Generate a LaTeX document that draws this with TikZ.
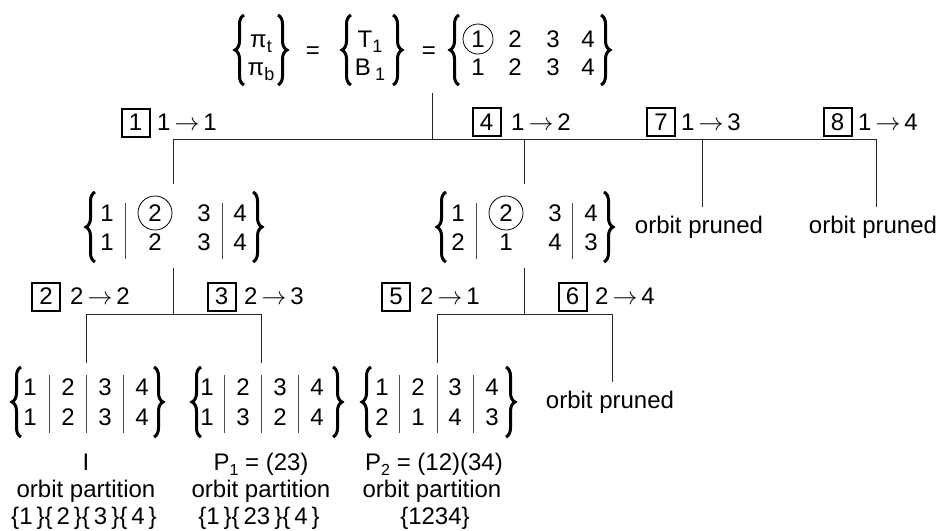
\documentclass[tikz,border=0pt]{standalone}
\usepackage{fontspec}
\setmainfont{Liberation Sans}
\usetikzlibrary{decorations.pathreplacing}
\newcommand\sbs[1]{\raisebox{-0.4ex}{\fontsize{18}{18}\selectfont #1}}
\newcommand\sbp[1]{\raisebox{-0.4ex}{\fontsize{16}{16}\selectfont #1}}
\newcommand\Lb[3]{\draw[brc] (#1+9,#3) -- (#1+9,#2);}
\newcommand\Rb[3]{\draw[brc] (#1-9,#2) -- (#1-9,#3);}
\newcommand\Vb[3]{\draw[vbar] (#1,#2) -- (#1,#3);}
\newcommand\arr{\,$\rightarrow$\,}
\begin{document}
\begin{tikzpicture}[x=1pt,y=-1pt,
  every node/.style={font=\fontsize{24}{28}\selectfont, inner sep=0pt},
  ln/.style={line width=1pt, draw=black!85},
  brc/.style={decorate, decoration={brace, amplitude=9pt, aspect=0.5}, line width=3pt},
  vbar/.style={line width=0.8pt, draw=black!70},
  circ/.style={draw, circle, minimum size=34pt, line width=0.8pt},
  boxn/.style={draw, line width=2pt, minimum width=28pt, minimum height=28pt},
  lbl/.style={anchor=west},
  bt/.style={anchor=base}]
\useasboundingbox (0,0) rectangle (944,530);

% ---------- group nodes (invisible frames) ----------
\node[minimum width=376pt, minimum height=82pt] (root) at (422,52) {};
\node[minimum width=176pt, minimum height=84pt] (m1) at (173,226) {};
\node[minimum width=176pt, minimum height=84pt] (m2) at (524,226) {};
\node[minimum width=152pt, minimum height=78pt] (l1) at (86,402) {};
\node[minimum width=152pt, minimum height=78pt] (l2) at (261,402) {};
\node[minimum width=152pt, minimum height=78pt] (l3) at (437,402) {};

% ---------- root ----------
\Lb{235}{15}{85}\Rb{287}{15}{85}
\node[bt] (pt) at (261,47.6) {π\sbs{t}};
\node[bt] (pb) at (261,75.6) {π\sbs{b}};
\node (eq1) at (313,53) {=};
\Lb{342}{15}{85}\Rb{402}{15}{85}
\node[bt] (T1) at (370,47.6) {T\sbs{1}};
\node[bt] (B1) at (370,75.6) {B\,\sbs{1}};
\node (eq2) at (429,53) {=};
\Lb{450}{15}{85}\Rb{610}{15}{85}
\node[circ, minimum size=30pt] (r11) at (478,39) {1};
\node (r12) at (515,39) {2};
\node (r13) at (553,39) {3};
\node (r14) at (588,39) {4};
\node (r21) at (478,67) {1};
\node (r22) at (515,67) {2};
\node (r23) at (553,67) {3};
\node (r24) at (588,67) {4};

% ---------- m1 ----------
\Lb{86}{192}{262}\Rb{262}{192}{262}
\node (a11) at (107,213) {1}; \node (a21) at (107,242) {1};
\Vb{125}{203}{259}
\node[circ] (a12) at (155,213) {2}; \node (a22) at (155,242) {2};
\node (a13) at (204,213) {3}; \node (a23) at (204,242) {3};
\Vb{222}{203}{259}
\node (a14) at (240,213) {4}; \node (a24) at (240,242) {4};

% ---------- m2 ----------
\Lb{437}{192}{262}\Rb{613}{192}{262}
\node (b11) at (458,213) {1}; \node (b21) at (458,242) {2};
\Vb{476}{203}{259}
\node[circ] (b12) at (506,213) {2}; \node (b22) at (506,242) {1};
\node (b13) at (555,213) {3}; \node (b23) at (555,242) {4};
\Vb{572}{203}{259}
\node (b14) at (591,213) {4}; \node (b24) at (591,242) {3};

% ---------- leaves ----------
\Lb{12}{367}{437}\Rb{163}{367}{437}
\node (c11) at (30,387) {1}; \node (c21) at (30,417) {1};
\node (c12) at (68,387) {2}; \node (c22) at (68,417) {2};
\node (c13) at (105,387) {3}; \node (c23) at (105,417) {3};
\node (c14) at (142,387) {4}; \node (c24) at (142,417) {4};
\Vb{49}{375}{433}\Vb{86}{375}{433}\Vb{123}{375}{433}

\Lb{192}{367}{437}\Rb{342}{367}{437}
\node (d11) at (207,387) {1}; \node (d21) at (207,417) {1};
\node (d12) at (243,387) {2}; \node (d22) at (243,417) {3};
\node (d13) at (280,387) {3}; \node (d23) at (280,417) {2};
\node (d14) at (317,387) {4}; \node (d24) at (317,417) {4};
\Vb{224}{375}{433}\Vb{261}{375}{433}\Vb{298}{375}{433}

\Lb{362}{367}{437}\Rb{515}{367}{437}
\node (e11) at (382,387) {1}; \node (e21) at (382,417) {2};
\node (e12) at (418,387) {2}; \node (e22) at (418,417) {1};
\node (e13) at (455,387) {3}; \node (e23) at (455,417) {4};
\node (e14) at (492,387) {4}; \node (e24) at (492,417) {3};
\Vb{399}{375}{433}\Vb{437}{375}{433}\Vb{473}{375}{433}

% ---------- pruned ----------
\node[bt] (p7) at (699,233) {orbit pruned};
\node[bt] (p8) at (873,233) {orbit pruned};
\node[bt] (p6) at (610,408) {orbit pruned};

% ---------- captions ----------
\node[bt] (f1a) at (86,470) {I};
\node[bt] (f1b) at (86,497) {orbit partition};
\node[bt] (f1c) at (84,524) {\{1\,\}\{\,2\,\}\{\,3\,\}\{\,4\,\}};
\node[bt] (f2a) at (261,470) {P\sbp{1} = (23)};
\node[bt] (f2b) at (261,497) {orbit partition};
\node[bt] (f2c) at (259,524) {\{1\,\}\{\,23\,\}\{\,4\,\}};
\node[bt] (f3a) at (434,470) {P\sbp{2} = (12)(34)};
\node[bt] (f3b) at (432,497) {orbit partition};
\node[bt] (f3c) at (435,524) {\{1234\}};

% ---------- edge labels ----------
\node[boxn] (k1) at (135.5,122.5) {1}; \node[lbl] (t1) at (157,122.5) {1\arr1};
\node[boxn] (k4) at (486.5,122) {4};   \node[lbl] (t4) at (511,122) {1\arr2};
\node[boxn] (k7) at (661,122) {7};     \node[lbl] (t7) at (681,122) {1\arr3};
\node[boxn] (k8) at (837.5,122) {8};   \node[lbl] (t8) at (858,122) {1\arr4};
\node[boxn] (k2) at (46,296.5) {2};    \node[lbl] (t2) at (70,296.5) {2\arr2};
\node[boxn] (k3) at (221.5,296.5) {3}; \node[lbl] (t3) at (244,296.5) {2\arr3};
\node[boxn] (k5) at (396,296.5) {5};   \node[lbl] (t5) at (420,296.5) {2\arr1};
\node[boxn] (k6) at (572.5,296.5) {6}; \node[lbl] (t6) at (595,296.5) {2\arr4};

% ---------- connectors ----------
\coordinate (j0) at (432,139);
\coordinate (h1L) at (173,139);
\coordinate (h1R) at (876,139);
\coordinate (e7) at (702,207);
\coordinate (e8) at (876,207);
\draw[ln] (root.south -| j0) -- (j0);
\draw[ln] (h1L) -- (h1R);
\draw[ln] (h1L) -- (m1.north);
\draw[ln] (m2.north |- h1L) -- (m2.north);
\draw[ln] (e7 |- h1L) -- (e7);
\draw[ln] (h1R) -- (e8);

\coordinate (j1) at (173,314);
\draw[ln] (m1.south) -- (j1);
\draw[ln] (l1.north |- j1) -- (l2.north |- j1);
\draw[ln] (l1.north |- j1) -- (l1.north);
\draw[ln] (l2.north |- j1) -- (l2.north);

\coordinate (j2) at (524,314);
\coordinate (e6) at (612,382);
\draw[ln] (m2.south) -- (j2);
\draw[ln] (l3.north |- j2) -- (e6 |- j2) -- (e6);
\draw[ln] (l3.north |- j2) -- (l3.north);
\end{tikzpicture}
\end{document}
